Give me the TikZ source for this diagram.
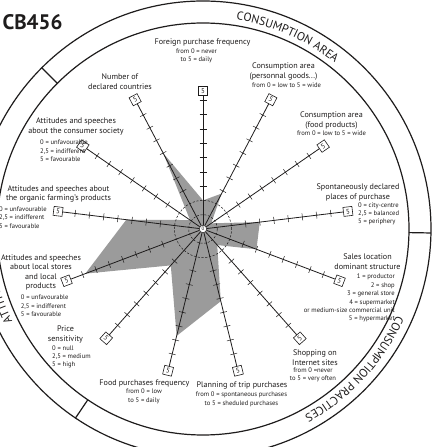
\documentclass[tikz,border=0pt]{standalone}
\usepackage{fontspec}
\setmainfont{PT Sans}
\usetikzlibrary{decorations.text,calc}
\newcommand\lbltitle{\fontsize{8.1}{9.6}\selectfont}
\newcommand\lblsub{\fontsize{6.6}{8.4}\selectfont}
\newcommand\ringfont{\fontsize{11.8}{12}\selectfont}
\definecolor{radarfill}{RGB}{155,155,155}
\definecolor{ink}{RGB}{30,28,28}

\begin{document}
\begin{tikzpicture}[x=1pt,y=1pt,
  ring/.style={line width=1.2pt, draw=ink},
  axisline/.style={line width=0.8pt, draw=ink},
  tickmark/.style={line width=0.5pt, draw=ink},
  guide/.style={line width=0.5pt, draw=ink, dash pattern=on 2.2pt off 1.6pt},
  valbox/.style={draw=ink, line width=0.6pt, fill=white, minimum size=9pt, inner sep=0pt,
                 font=\fontsize{7}{7}\selectfont, text=ink},
  ttl/.style={align=center, inner sep=0pt, text=ink, font=\lbltitle},
  sub/.style={align=center, inner sep=0pt, text=ink, font=\lblsub},
  subl/.style={align=left, inner sep=0pt, text=ink, font=\lblsub, anchor=west},
  subr/.style={align=right, inner sep=0pt, text=ink, font=\lblsub, anchor=east},
  ringtext/.style={decorate, decoration={text along path, text align=left, text color=ink}},
]
\useasboundingbox (-203,-218) rectangle (230,229);
\clip (-203,-218) rectangle (230,229);

% scores on the thirteen axes (one unit = 28.6pt)
\foreach \v [count=\i from 0] in {1.0,1.4,0.35,2.0,2.0,0.75,2.6,3.85,1.7,4.4,2.7,0.55,3.0}{
  \coordinate (p\i) at ({90-\i*360/13}:{\v*28.6});
}
\fill[radarfill] (p0) -- (p1) -- (p2) -- (p3) -- (p4) -- (p5) -- (p6) -- (p7)
  -- (p8) -- (p9) -- (p10) -- (p11) -- (p12) -- cycle;

% centre and inner guide circles
\coordinate (c) at (0,0);
\draw[guide] (c) circle[radius=14.3];
\draw[guide] (c) circle[radius=28.6];
\node[circle, draw=ink, line width=0.5pt, fill=white, inner sep=0pt, minimum size=7.5pt,
      font=\fontsize{5}{5}\selectfont, text=ink] (o) at (c) {0};

% axes with half-unit ticks and end boxes (the vertical one sits a little closer)
\foreach \i in {0,...,12}{
  \pgfmathsetmacro\ang{90-\i*360/13}
  \pgfmathsetmacro\rot{mod(\ang+675,90)-45}
  \pgfmathsetmacro\boxr{\i==0 ? 138 : 146}
  \node[valbox, rotate=\rot] (b\i) at (\ang:\boxr) {5};
  \draw[axisline] (o) -- (b\i);
  \foreach \k in {3,...,9}{
    \draw[tickmark] ($(\ang:{\k*14.3})+({\ang+90}:3.5)$) -- ($(\ang:{\k*14.3})+({\ang-90}:3.5)$);
  }
}

% outer band with its three sectors
\draw[ring] (c) circle[radius=206];
\draw[ring] (c) circle[radius=228];
\draw[ring] (135:206) -- (135:228);
\draw[ring] (-1:206) -- (-1:228);
\draw[ring] (236:206) -- (236:228);
\path[ringtext, decoration={text={|\ringfont|CONSUMPTION AREA}}]
  (81:212) arc[start angle=81, end angle=20, radius=212];
\path[ringtext, decoration={text={|\ringfont|CONSUMPTION PRACTICES}}]
  (-24:212) arc[start angle=-24, end angle=-100, radius=212];
\path[ringtext, decoration={text={|\ringfont|ATTITUDES}}]
  (206:212) arc[start angle=206, end angle=150, radius=212];

% code of the respondent
\node[font=\fontsize{21}{21}\selectfont\bfseries, text=ink, inner sep=0pt] (code) at (-170.5,206.5) {CB456};

% axis labels
\node[ttl] (t1) at (-0.5,187) {Foreign purchase frequency};
\node[sub] (s1) at (-6.5,173) {from 0 = never\\to 5 = daily};

\node[ttl] (t2) at (80.5,157.7) {Consumption area\\(personnal goods...)};
\node[sub] (s2) at (83.5,144) {from 0 = low to 5 = wide};

\node[ttl] (t3) at (128.5,108.2) {Consumption area\\(food products)};
\node[sub] (s3) at (128.5,95.7) {from 0 = low to 5 = wide};

\node[ttl] (t4) at (155,36.8) {Spontaneously declared\\places of purchase};
\node[subl] (s4) at (155,15.1) {0 = city-centre\\2,5 = balanced\\5 = periphery};

\node[ttl] (t5) at (164.5,-32.7) {Sales location\\dominant structure};
\node[subr] (s5) at (192,-69.2) {1 = productor\\2 = shop\\3 = general store\\4 = supermarket\\or medium-size commercial unit\\5 = hypermarket};

\node[ttl] (t6) at (112,-128.5) {Shopping on\\Internet sites};
\node[sub] (s6) at (110,-145.9) {from 0 =never\\to 5 = very often};

\node[ttl] (t7) at (39,-156) {Planning of trip purchases};
\node[sub] (s7) at (38.5,-170.2) {from 0 = spontaneous purchases\\to 5 = sheduled purchases};

\node[ttl] (t8) at (-58.5,-154.3) {Food purchases frequency};
\node[sub] (s8) at (-59,-167.4) {from 0 = low\\to 5 = daily};

\node[ttl] (t9) at (-137.5,-105.2) {Price\\sensitivity};
\node[subl] (s9) at (-151,-127.8) {0 = null\\2,5 = medium\\5 = high};

\node[ttl] (t10) at (-162,-43.4) {Attitudes and speeches\\about local stores\\and local\\products};
\node[subl] (s10) at (-182.3,-76.8) {0 = unfavourable\\2,5 = indifferent\\5 = favourable};

\node[ttl] (t11) at (-144.5,35.2) {Attitudes and speeches about\\the organic farming's products};
\node[subl] (s11) at (-204,11.6) {0 = unfavourable\\2,5 = indifferent\\5 = favourable};

\node[ttl] (t12) at (-127,102.3) {Attitudes and speeches\\about the consumer society};
\node[subl] (s12) at (-163,78.3) {0 = unfavourable\\2,5 = indifferent\\5 = favourable};

\node[ttl] (t13) at (-83,147.5) {Number of\\declared countries};
\end{tikzpicture}
\end{document}
